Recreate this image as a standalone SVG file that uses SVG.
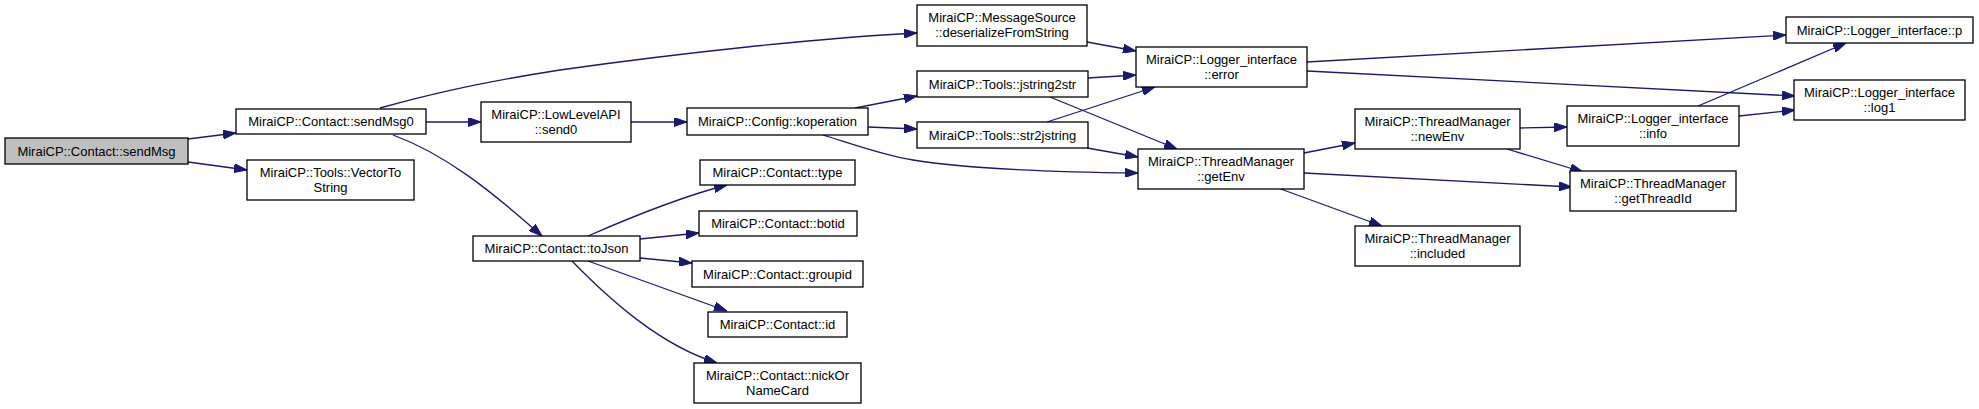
<svg xmlns="http://www.w3.org/2000/svg" width="1979" height="409" viewBox="0 0 1979 409">
<style>
.n rect{fill:#ffffff;stroke:#000000;stroke-width:1.3}
.n.root rect{fill:#bfbfbf}
.n text{font-family:"Liberation Sans",Arial,sans-serif;font-size:13px;fill:#000000;text-anchor:middle}
.e path{fill:none;stroke:#191970;stroke-width:1.3;marker-end:url(#ah)}
</style>
<defs>
<marker id="ah" viewBox="0 0 13 9" refX="13" refY="4.5" markerWidth="13" markerHeight="9" markerUnits="userSpaceOnUse" orient="auto">
<path d="M0,0 L13,4.5 L0,9 z" fill="#191970" stroke="#191970" stroke-width="1"/>
</marker>
</defs>
<rect x="0" y="0" width="1979" height="409" fill="#ffffff"/>
<g id="edges" class="e">
<path d="M188,139 L236,133"/>
<path d="M188,162 L247,170"/>
<path d="M380,108 C420,97 470,84 560,70 C680,53 820,38 917,33"/>
<path d="M426,122 L481,122"/>
<path d="M393,135 C445,154 490,190 542,236"/>
<path d="M631,122 L687,122"/>
<path d="M855,108 L917,96"/>
<path d="M868,127 L917,129"/>
<path d="M823,135 C855,145 885,156 913,160 C960,168 1050,172 1138,173"/>
<path d="M1087,42 L1136,51"/>
<path d="M1088,78 L1136,75"/>
<path d="M1050,97 L1177,149"/>
<path d="M1047,122 L1155,87"/>
<path d="M1087,148 L1138,157"/>
<path d="M1307,62 L1786,35"/>
<path d="M1307,71 L1795,96"/>
<path d="M1304,153 L1355,143"/>
<path d="M1304,173 L1572,187"/>
<path d="M1278,188 L1382,226"/>
<path d="M1520,128 L1567,127"/>
<path d="M1507,149 L1583,172"/>
<path d="M1698,106 L1846,43"/>
<path d="M1739,116 L1795,110"/>
<path d="M588,236 C620,222 680,197 727,185"/>
<path d="M640,239 L699,233"/>
<path d="M640,258 L692,263"/>
<path d="M588,261 L727,311"/>
<path d="M572,261 C610,300 660,345 717,363"/>
</g>
<g id="node_sendMsg" class="n root"><rect x="5" y="138" width="183" height="26"/><text x="96.5" y="156">MiraiCP::Contact::sendMsg</text></g>
<g id="node_sendMsg0" class="n"><rect x="236" y="109" width="190" height="25"/><text x="331" y="126">MiraiCP::Contact::sendMsg0</text></g>
<g id="node_VectorToString" class="n"><rect x="247" y="160" width="167" height="40"/><text x="330.5" y="177">MiraiCP::Tools::VectorTo</text><text x="330.5" y="192">String</text></g>
<g id="node_deserializeFromString" class="n"><rect x="917" y="5" width="170" height="41"/><text x="1002" y="22">MiraiCP::MessageSource</text><text x="1002" y="37">::deserializeFromString</text></g>
<g id="node_send0" class="n"><rect x="481" y="102" width="150" height="40"/><text x="556" y="119">MiraiCP::LowLevelAPI</text><text x="556" y="134">::send0</text></g>
<g id="node_toJson" class="n"><rect x="473" y="236" width="167" height="25"/><text x="556.5" y="253">MiraiCP::Contact::toJson</text></g>
<g id="node_koperation" class="n"><rect x="687" y="108" width="181" height="27"/><text x="777.5" y="126">MiraiCP::Config::koperation</text></g>
<g id="node_jstring2str" class="n"><rect x="917" y="71" width="171" height="26"/><text x="1002.5" y="89">MiraiCP::Tools::jstring2str</text></g>
<g id="node_str2jstring" class="n"><rect x="917" y="122" width="171" height="26"/><text x="1002.5" y="140">MiraiCP::Tools::str2jstring</text></g>
<g id="node_type" class="n"><rect x="700" y="160" width="155" height="25"/><text x="777.5" y="177">MiraiCP::Contact::type</text></g>
<g id="node_botid" class="n"><rect x="699" y="211" width="158" height="25"/><text x="778" y="228">MiraiCP::Contact::botid</text></g>
<g id="node_groupid" class="n"><rect x="692" y="261" width="171" height="26"/><text x="777.5" y="279">MiraiCP::Contact::groupid</text></g>
<g id="node_id" class="n"><rect x="708" y="312" width="139" height="25"/><text x="777.5" y="329">MiraiCP::Contact::id</text></g>
<g id="node_nickOrNameCard" class="n"><rect x="694" y="363" width="167" height="40"/><text x="777.5" y="380">MiraiCP::Contact::nickOr</text><text x="777.5" y="395">NameCard</text></g>
<g id="node_error" class="n"><rect x="1136" y="47" width="171" height="40"/><text x="1221.5" y="64">MiraiCP::Logger_interface</text><text x="1221.5" y="79">::error</text></g>
<g id="node_getEnv" class="n"><rect x="1138" y="149" width="166" height="40"/><text x="1221" y="166">MiraiCP::ThreadManager</text><text x="1221" y="181">::getEnv</text></g>
<g id="node_newEnv" class="n"><rect x="1355" y="109" width="165" height="40"/><text x="1437.5" y="126">MiraiCP::ThreadManager</text><text x="1437.5" y="141">::newEnv</text></g>
<g id="node_included" class="n"><rect x="1355" y="226" width="165" height="40"/><text x="1437.5" y="243">MiraiCP::ThreadManager</text><text x="1437.5" y="258">::included</text></g>
<g id="node_info" class="n"><rect x="1567" y="106" width="172" height="40"/><text x="1653" y="123">MiraiCP::Logger_interface</text><text x="1653" y="138">::info</text></g>
<g id="node_getThreadId" class="n"><rect x="1570" y="171" width="166" height="40"/><text x="1653" y="188">MiraiCP::ThreadManager</text><text x="1653" y="203">::getThreadId</text></g>
<g id="node_p" class="n"><rect x="1786" y="17" width="187" height="26"/><text x="1879.5" y="35">MiraiCP::Logger_interface::p</text></g>
<g id="node_log1" class="n"><rect x="1794" y="80" width="171" height="40"/><text x="1879.5" y="97">MiraiCP::Logger_interface</text><text x="1879.5" y="112">::log1</text></g>
</svg>
